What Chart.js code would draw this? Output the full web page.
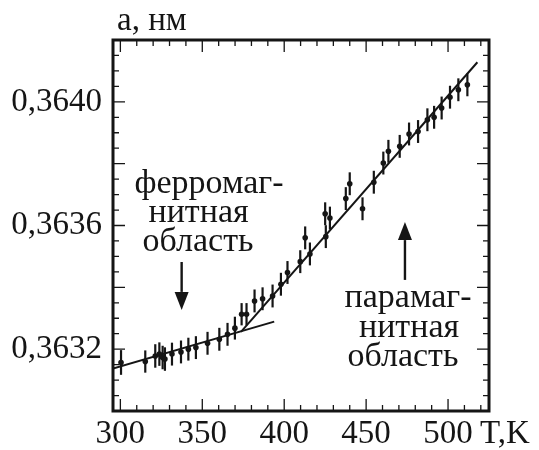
<!DOCTYPE html>
<html>
<head>
<meta charset="utf-8">
<script src="https://cdn.jsdelivr.net/npm/chart.js@4"></script>
<style>
  html, body { margin: 0; padding: 0; background: #fff; }
</style>
</head>
<body>
<canvas id="lattice-chart" width="539" height="450"></canvas>
<script>
// lattice parameter vs temperature, measured points
const temps = [300.4, 315.2, 321.3, 323.8, 325.8, 327.2, 331.5, 337.0, 341.5, 346.1,
               353.2, 360.4, 365.4, 369.9, 374.0, 377.0, 381.9, 386.8, 392.9, 398.0,
               402.0, 409.8, 412.8, 415.7, 425.0, 425.4, 427.9, 437.6, 440.0, 447.8,
               454.7, 460.5, 463.6, 470.5, 476.2, 481.7, 487.4, 491.5, 496.1, 501.2,
               506.3, 511.8];
const lattice = [0.363157, 0.363160, 0.363178, 0.363184, 0.363173, 0.363168, 0.363184, 0.363191, 0.363200, 0.363205,
                 0.363219, 0.363232, 0.363248, 0.363268, 0.363313, 0.363313, 0.363356, 0.363363, 0.363372, 0.363410,
                 0.363448, 0.363483, 0.363560, 0.363508, 0.363638, 0.363564, 0.363624, 0.363687, 0.363735, 0.363654,
                 0.363740, 0.363802, 0.363840, 0.363856, 0.363896, 0.363904, 0.363942, 0.363950, 0.363980, 0.364015,
                 0.364039, 0.364055];
const latticeErr = [0.000040, 0.000036, 0.000038, 0.000038, 0.000038, 0.000038, 0.000037, 0.000037, 0.000037, 0.000037,
                    0.000037, 0.000037, 0.000037, 0.000037, 0.000036, 0.000036, 0.000037, 0.000037, 0.000037, 0.000037,
                    0.000037, 0.000037, 0.000037, 0.000037, 0.000037, 0.000037, 0.000037, 0.000037, 0.000037, 0.000037,
                    0.000037, 0.000037, 0.000037, 0.000037, 0.000037, 0.000037, 0.000037, 0.000037, 0.000037, 0.000037,
                    0.000037, 0.000037];

// linear fits for the two regions
const ferroFitT = [295.5, 393.9];
const ferroFitA = [0.363137, 0.363289];
const paraFitT = [373.6, 517.9];
const paraFitA = [0.363256, 0.364128];

const xTickValues = [300, 350, 400, 450, 500];
const xTickLabels = ['300', '350', '400', '450', '500'];
const yTickValues = [0.3632, 0.3636, 0.3640];
const yTickLabels = ['0,3632', '0,3636', '0,3640'];

const INK = '#151515';
const SERIF = '"Liberation Serif", "Times New Roman", serif';

function toXY(xs, ys) {
    return xs.map((x, i) => ({ x: x, y: ys[i] }));
}

const errorBars = {
    id: 'errorBars',
    beforeDatasetsDraw(chart) {
        const ctx = chart.ctx;
        const xs = chart.scales.x, ys = chart.scales.y;
        ctx.save();
        ctx.strokeStyle = INK;
        ctx.lineWidth = 2.2;
        for (let i = 0; i < temps.length; i++) {
            const px = xs.getPixelForValue(temps[i]);
            ctx.beginPath();
            ctx.moveTo(px, ys.getPixelForValue(lattice[i] - latticeErr[i]));
            ctx.lineTo(px, ys.getPixelForValue(lattice[i] + latticeErr[i]));
            ctx.stroke();
        }
        ctx.restore();
    }
};

function arrow(ctx, x, yFrom, yTo) {
    const dir = yTo > yFrom ? 1 : -1;
    const headLen = 18, headW = 7;
    ctx.beginPath();
    ctx.moveTo(x, yFrom);
    ctx.lineTo(x, yTo - dir * headLen);
    ctx.stroke();
    ctx.beginPath();
    ctx.moveTo(x, yTo);
    ctx.lineTo(x - headW, yTo - dir * headLen);
    ctx.lineTo(x + headW, yTo - dir * headLen);
    ctx.closePath();
    ctx.fill();
}

const frameAndNotes = {
    id: 'frameAndNotes',
    afterDraw(chart) {
        const ctx = chart.ctx;
        const area = chart.chartArea;
        const xs = chart.scales.x, ys = chart.scales.y;
        ctx.save();
        ctx.strokeStyle = INK;
        ctx.fillStyle = INK;

        // inward ticks on all four sides
        ctx.lineWidth = 1.3;
        for (let t = 300; t <= 520; t += 10) {
            const px = xs.getPixelForValue(t);
            const len = t % 50 === 0 ? 12 : 6;
            ctx.beginPath();
            ctx.moveTo(px, area.bottom);
            ctx.lineTo(px, area.bottom - len);
            ctx.moveTo(px, area.top);
            ctx.lineTo(px, area.top + len);
            ctx.stroke();
        }
        for (let k = 36305; k <= 36415; k += 5) {
            const py = ys.getPixelForValue(k / 100000);
            const len = k % 20 === 0 ? 12 : 6;
            ctx.beginPath();
            ctx.moveTo(area.left, py);
            ctx.lineTo(area.left + len, py);
            ctx.moveTo(area.right, py);
            ctx.lineTo(area.right - len, py);
            ctx.stroke();
        }

        // frame
        ctx.lineWidth = 3;
        ctx.strokeRect(area.left, area.top, area.right - area.left, area.bottom - area.top);

        // axis names
        ctx.font = '33px ' + SERIF;
        ctx.textAlign = 'left';
        ctx.textBaseline = 'alphabetic';
        ctx.fillText('a, нм', area.left + 4, area.top - 10);
        ctx.fillText('T,K', xs.getPixelForValue(500) + 32, area.bottom + 32);

        // region labels
        ctx.font = '34px ' + SERIF;
        ctx.textAlign = 'center';
        const notes = [
            ['ферромаг-', 354.1, 0.363705],
            ['нитная', 347.7, 0.363611],
            ['область', 347.4, 0.363518],
            ['парамаг-', 475.6, 0.363336],
            ['нитная', 476.2, 0.363239],
            ['область', 472.5, 0.363146]
        ];
        for (const [txt, t, a] of notes) {
            ctx.fillText(txt, xs.getPixelForValue(t), ys.getPixelForValue(a));
        }

        ctx.lineWidth = 2.4;
        arrow(ctx, xs.getPixelForValue(337.4), ys.getPixelForValue(0.363482), ys.getPixelForValue(0.363327));
        arrow(ctx, xs.getPixelForValue(473.7), ys.getPixelForValue(0.363424), ys.getPixelForValue(0.363611));
        ctx.restore();
    }
};

new Chart(document.getElementById('lattice-chart'), {
    type: 'scatter',
    data: {
        datasets: [{
            data: toXY(temps, lattice),
            pointRadius: 2.8,
            pointBackgroundColor: INK,
            pointBorderWidth: 0
        }, {
            type: 'line',
            data: toXY(ferroFitT, ferroFitA),
            borderColor: INK,
            borderWidth: 2,
            pointRadius: 0,
            fill: false
        }, {
            type: 'line',
            data: toXY(paraFitT, paraFitA),
            borderColor: INK,
            borderWidth: 2,
            pointRadius: 0,
            fill: false
        }]
    },
    options: {
        responsive: false,
        animation: false,
        devicePixelRatio: 1,
        layout: { padding: { top: 40, right: 50, left: 0, bottom: 0 } },
        plugins: { legend: { display: false }, tooltip: { enabled: false } },
        scales: {
            x: {
                type: 'linear',
                min: 295.5,
                max: 525,
                border: { display: false },
                grid: { display: false, drawTicks: false, tickLength: 0 },
                afterBuildTicks: s => { s.ticks = xTickValues.map(v => ({ value: v })); },
                afterFit: s => { s.height = 39; },
                ticks: {
                    color: INK,
                    padding: 4,
                    maxRotation: 0,
                    autoSkip: false,
                    font: { family: SERIF, size: 33 },
                    callback: v => {
                        const i = xTickValues.indexOf(v);
                        return i >= 0 ? xTickLabels[i] : '';
                    }
                }
            },
            y: {
                type: 'linear',
                min: 0.3630,
                max: 0.3642,
                border: { display: false },
                grid: { display: false, drawTicks: false, tickLength: 0 },
                afterBuildTicks: s => { s.ticks = yTickValues.map(v => ({ value: v })); },
                afterFit: s => { s.width = 113; },
                ticks: {
                    color: INK,
                    padding: 11,
                    font: { family: SERIF, size: 33 },
                    callback: v => {
                        const i = yTickValues.indexOf(v);
                        return i >= 0 ? yTickLabels[i] : '';
                    }
                }
            }
        }
    },
    plugins: [errorBars, frameAndNotes]
});
</script>
</body>
</html>
